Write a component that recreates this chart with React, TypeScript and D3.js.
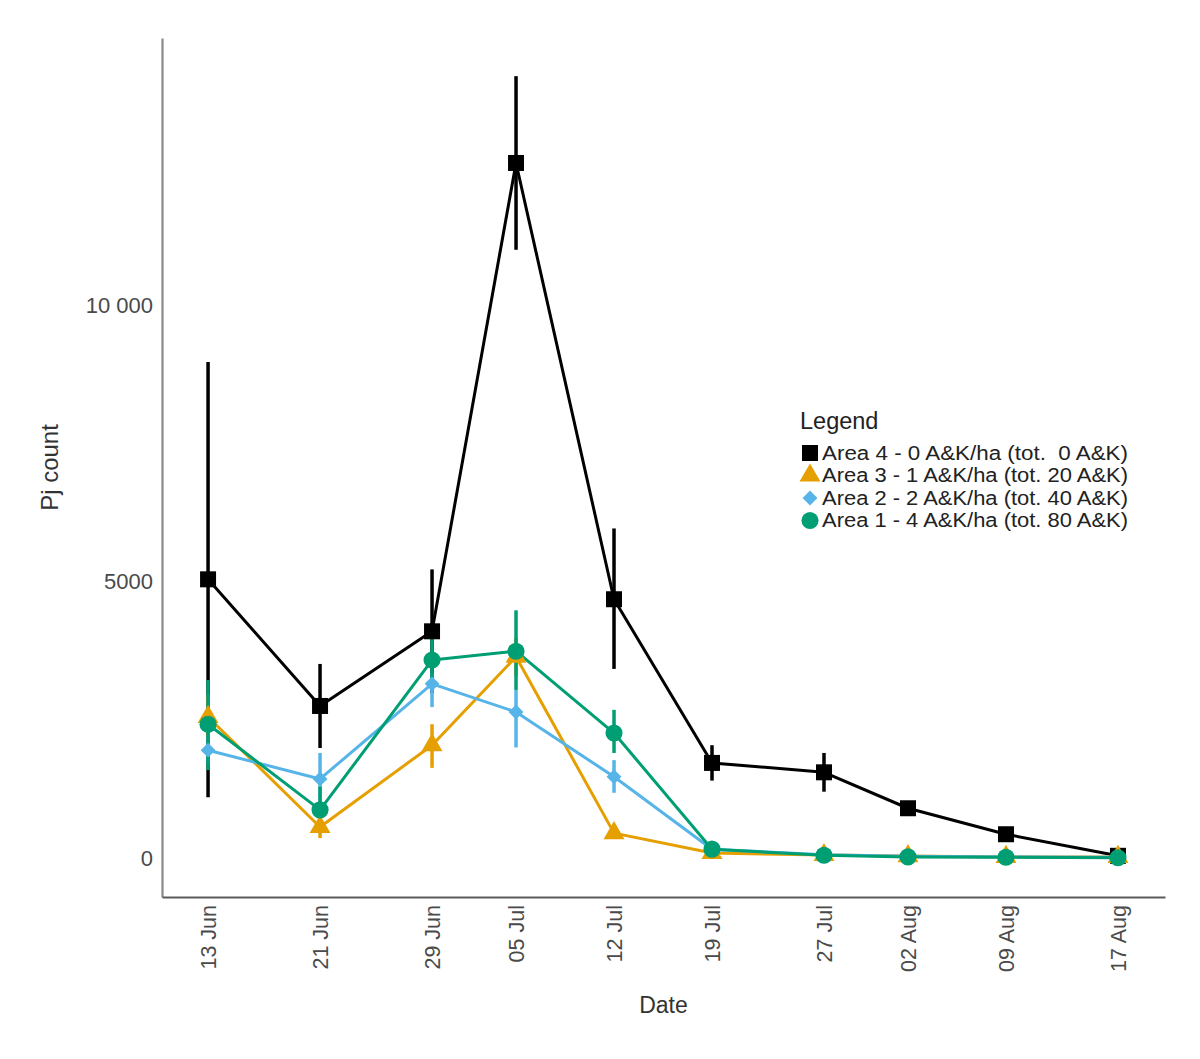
import React, { useRef, useEffect } from 'react';
import * as d3 from 'd3';

// Sampling dates (x axis)
const DATES = [
  '2021-06-13', '2021-06-21', '2021-06-29', '2021-07-05', '2021-07-12',
  '2021-07-19', '2021-07-27', '2021-08-02', '2021-08-09', '2021-08-17',
];

// Area 4 - 0 A&K/ha
const AREA4 = [5040, 2750, 4100, 12570, 4680, 1720, 1550, 900, 430, 40];
const AREA4_LO = [1100, 1990, 2980, 11000, 3420, 1400, 1200, 820, 380, 10];
const AREA4_HI = [8970, 3510, 5220, 14140, 5960, 2040, 1900, 980, 490, 70];

// Area 3 - 1 A&K/ha
const AREA3 = [2550, 560, 2040, 3640, 450, 90, 55, 35, 20, 20];
const AREA3_LO = [2150, 360, 1630, 3300, 380, 60, 20, 10, 5, 5];
const AREA3_HI = [2950, 760, 2420, 3980, 520, 120, 90, 60, 35, 35];

// Area 2 - 2 A&K/ha
const AREA2 = [1950, 1430, 3150, 2640, 1470, 160, 60, 30, 20, 15];
const AREA2_LO = [1700, 900, 2730, 2000, 1180, 120, 40, 10, 5, 5];
const AREA2_HI = [2200, 1900, 3350, 3040, 1770, 200, 80, 50, 35, 25];

// Area 1 - 4 A&K/ha
const AREA1 = [2420, 870, 3580, 3740, 2260, 160, 50, 20, 15, 5];
const AREA1_LO = [1590, 450, 3160, 3040, 1900, 130, 30, 5, 5, 0];
const AREA1_HI = [3220, 1290, 4000, 4480, 2680, 190, 70, 35, 25, 10];

const Y_TICKS = [0, 5000, 10000];

const SERIES = [
  { label: 'Area 4 - 0 A&K/ha (tot.\u00a0 0 A&K)', color: '#000000', shape: 'square', values: AREA4, lo: AREA4_LO, hi: AREA4_HI },
  { label: 'Area 3 - 1 A&K/ha (tot. 20 A&K)', color: '#E69F00', shape: 'triangle', values: AREA3, lo: AREA3_LO, hi: AREA3_HI },
  { label: 'Area 2 - 2 A&K/ha (tot. 40 A&K)', color: '#56B4E9', shape: 'diamond', values: AREA2, lo: AREA2_LO, hi: AREA2_HI },
  { label: 'Area 1 - 4 A&K/ha (tot. 80 A&K)', color: '#009E73', shape: 'circle', values: AREA1, lo: AREA1_LO, hi: AREA1_HI },
];

const FONT = "'Liberation Sans', Arial, sans-serif";
const DAY = 24 * 3600 * 1000;

function symbolPath(shape: string) {
  switch (shape) {
    case 'square': return d3.symbol(d3.symbolSquare, 256)()!;
    case 'triangle': return d3.symbol(d3.symbolTriangle, 190)()!;
    case 'diamond': return d3.symbol(d3.symbolSquare, 110)()!;
    default: return d3.symbol(d3.symbolCircle, 230)()!;
  }
}

export default function App() {
  const svgRef = useRef<SVGSVGElement>(null);
  const width = 1200;
  const height = 1059;

  useEffect(() => {
    const svg = d3.select(svgRef.current);
    svg.selectAll('*').remove();

    const parse = d3.utcParse('%Y-%m-%d');
    const dates = DATES.map(d => parse(d)!);

    // plot panel
    const left = 162, right = 1165, top = 38, bottom = 897;

    const x = d3.scaleUtc()
      .domain([new Date(+dates[0] - 3.29 * DAY), new Date(+dates[dates.length - 1] + 3.36 * DAY)])
      .range([left, right]);

    const y = d3.scaleLinear()
      .domain([-705, 14830])
      .range([bottom, top]);

    svg.append('rect').attr('width', width).attr('height', height).attr('fill', '#fff');

    // Y axis
    const yAxis = d3.axisLeft(y)
      .tickValues(Y_TICKS)
      .tickSize(0)
      .tickPadding(9)
      .tickFormat(d => (+d >= 10000 ? d3.format(',')(+d).replace(',', ' ') : String(d)));
    const gy = svg.append('g').attr('transform', `translate(${left},0)`).call(yAxis);
    gy.select('.domain').attr('stroke', '#8a8a8a').attr('stroke-width', 2.2);
    gy.selectAll('text').attr('font-family', FONT).attr('font-size', 22).attr('fill', '#4a4a4a');

    // X axis
    const xAxis = d3.axisBottom(x)
      .tickValues(dates)
      .tickSize(0)
      .tickFormat(d => d3.utcFormat('%d %b')(d as Date));
    const gx = svg.append('g').attr('transform', `translate(0,${bottom})`).call(xAxis);
    gx.select('.domain').attr('stroke', '#5a5a5a').attr('stroke-width', 2);
    gx.selectAll('text')
      .attr('font-family', FONT)
      .attr('font-size', 21.5)
      .attr('fill', '#4a4a4a')
      .attr('text-anchor', 'end')
      .attr('transform', 'rotate(-90)')
      .attr('x', -8)
      .attr('y', 0)
      .attr('dy', '0.36em');

    // axis titles
    svg.append('text')
      .attr('transform', `translate(50,${(top + bottom) / 2 - 0}) rotate(-90)`)
      .attr('text-anchor', 'middle')
      .attr('dy', '0.35em')
      .attr('font-family', FONT)
      .attr('font-size', 24)
      .attr('fill', '#333')
      .text('Pj count');

    svg.append('text')
      .attr('x', (left + right) / 2)
      .attr('y', 1005)
      .attr('dy', '0.35em')
      .attr('text-anchor', 'middle')
      .attr('font-family', FONT)
      .attr('font-size', 23)
      .attr('fill', '#333')
      .text('Date');

    const line = d3.line<number>()
      .x((_, i) => x(dates[i]))
      .y(v => y(v));

    // error bars
    SERIES.forEach(s => {
      svg.append('g').selectAll('line')
        .data(s.values)
        .enter()
        .append('line')
        .attr('x1', (_, i) => x(dates[i]))
        .attr('x2', (_, i) => x(dates[i]))
        .attr('y1', (_, i) => y(s.lo[i]))
        .attr('y2', (_, i) => y(s.hi[i]))
        .attr('stroke', s.color)
        .attr('stroke-width', 3.5);
    });

    // lines
    SERIES.forEach(s => {
      svg.append('path')
        .datum(s.values)
        .attr('d', line)
        .attr('fill', 'none')
        .attr('stroke', s.color)
        .attr('stroke-width', 3)
        .attr('stroke-linejoin', 'round');
    });

    // points
    SERIES.forEach(s => {
      svg.append('g').selectAll('path')
        .data(s.values)
        .enter()
        .append('path')
        .attr('d', symbolPath(s.shape))
        .attr('transform', (v, i) => `translate(${x(dates[i])},${y(v)})${s.shape === 'diamond' ? ' rotate(45)' : ''}`)
        .attr('fill', s.color);
    });

    // legend
    const legend = svg.append('g').attr('transform', 'translate(800,421)');
    legend.append('text')
      .attr('x', 0)
      .attr('y', 0)
      .attr('dy', '0.35em')
      .attr('font-family', FONT)
      .attr('font-size', 23.5)
      .attr('fill', '#222')
      .text('Legend');

    const items = legend.selectAll('.legend-item')
      .data(SERIES)
      .enter()
      .append('g')
      .attr('class', 'legend-item')
      .attr('transform', (_, i) => `translate(0,${32 + i * 22.5})`);

    items.append('path')
      .attr('d', d => symbolPath(d.shape))
      .attr('transform', d => `translate(10,0)${d.shape === 'diamond' ? ' rotate(45)' : ''}`)
      .attr('fill', d => d.color);

    items.append('text')
      .attr('x', 22)
      .attr('dy', '0.35em')
      .attr('font-family', FONT)
      .attr('font-size', 19.5)
      .attr('textLength', 306)
      .attr('lengthAdjust', 'spacingAndGlyphs')
      .attr('fill', '#222')
      .text(d => d.label);
  }, []);

  return (
    <svg
      ref={svgRef}
      width={width}
      height={height}
      style={{ position: 'absolute', left: 0, top: 0, display: 'block' }}
    />
  );
}
